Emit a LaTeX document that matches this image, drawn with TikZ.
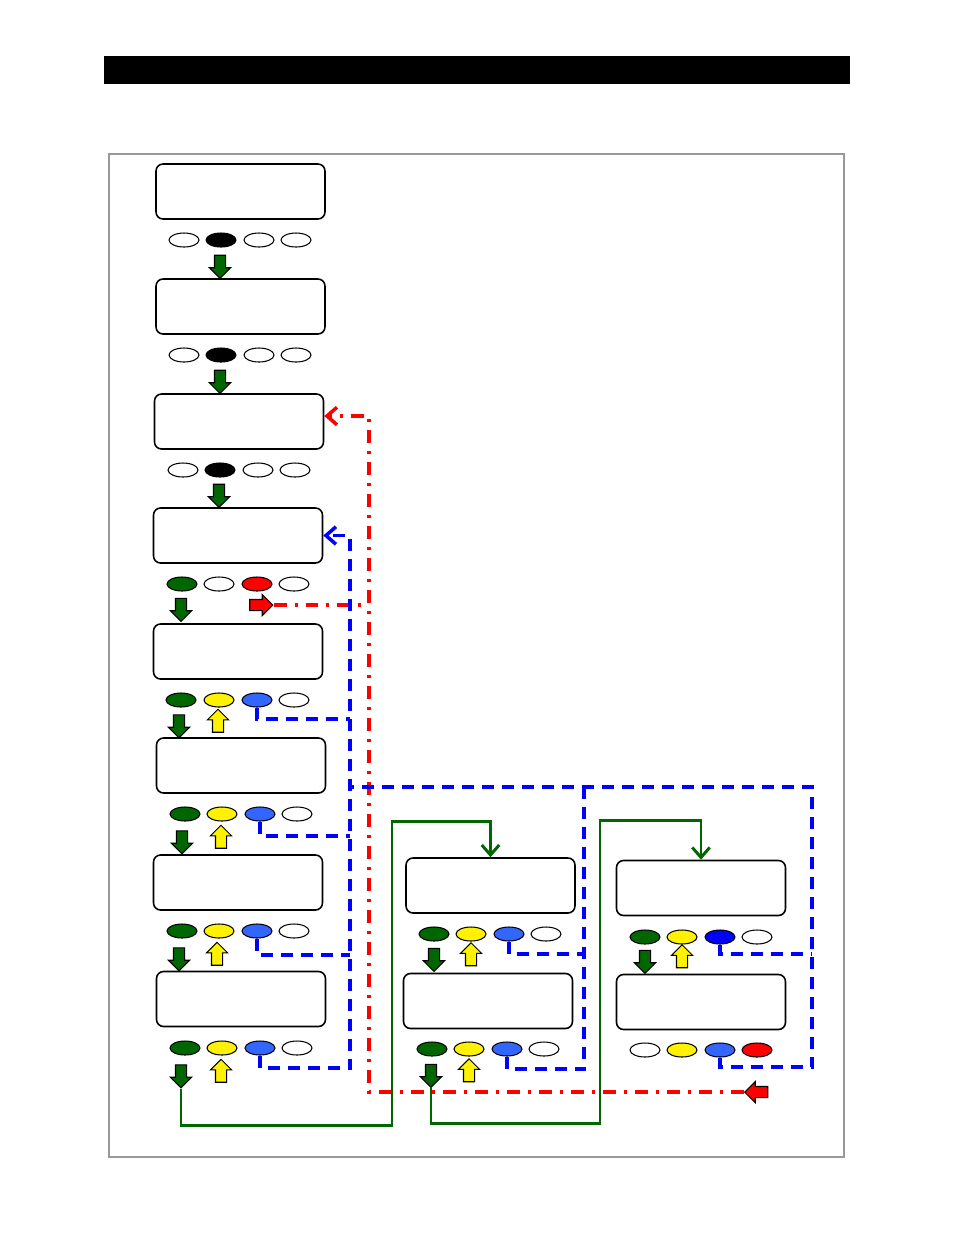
\documentclass[tikz,border=0pt]{standalone}
\usetikzlibrary{arrows.meta,positioning,shapes.geometric,shapes.arrows}

\definecolor{keygreen}{RGB}{0,102,0}
\definecolor{keyblue}{RGB}{51,102,255}
\definecolor{keydeep}{RGB}{0,0,255}

\begin{document}
\begin{tikzpicture}[
  x=0.02cm, y=-0.02cm,
  screen/.style={
    draw=black,
    rounded corners=4pt,
    line width=0.9pt,
    fill=white,
    minimum width=3.38cm,
    minimum height=1.1cm
  },
  key/.style={
    ellipse,
    draw=black,
    line width=0.6pt,
    fill=white,
    inner sep=0pt,
    minimum width=0.6cm,
    minimum height=0.28cm
  },
  blk/.style={
    single arrow,
    draw=black,
    line width=0.6pt,
    inner sep=0.1cm,
    minimum height=0.46cm,
    minimum width=0.4cm,
    single arrow head extend=0.1cm
  },
  pushdown/.style={blk, fill=keygreen, shape border rotate=270},
  pushup/.style={blk, fill=yellow, shape border rotate=90},
  pushright/.style={blk, fill=red, shape border rotate=0},
  pushleft/.style={blk, fill=red, shape border rotate=180},
  bluelink/.style={draw=keydeep, line width=2pt, dash pattern=on 0.24cm off 0.16cm},
  redlink/.style={draw=red, line width=2pt, dash pattern=on 0.26cm off 0.16cm on 0.06cm off 0.16cm},
  greenlink/.style={draw=keygreen, line width=1.7pt},
  tip/.style={-{Straight Barb[length=2mm,width=3.5mm]}}
]
\useasboundingbox (0,0) rectangle (954,1235);

% title bar and page frame
\fill[black] (104,56) rectangle (850,84);
\draw[black!40, line width=0.6pt] (109,154) rectangle (844,1157);

% left column
\node[screen] (menu1) at (240.5,191.5) {};
\node[key] (k1a) at (184,240) {};
\node[key, fill=black] (k1b) at (221,240) {};
\node[key] (k1c) at (259,240) {};
\node[key] (k1d) at (296,240) {};
\node[pushdown] (go1) at (220,264) {};

\node[screen] (menu2) at (240.5,306.5) {};
\node[key] (k2a) at (184,355) {};
\node[key, fill=black] (k2b) at (221,355) {};
\node[key] (k2c) at (259,355) {};
\node[key] (k2d) at (296,355) {};
\node[pushdown] (go2) at (220,379) {};

\node[screen] (menu3) at (239,421.5) {};
\node[key] (k3a) at (183,470) {};
\node[key, fill=black] (k3b) at (220,470) {};
\node[key] (k3c) at (258,470) {};
\node[key] (k3d) at (295,470) {};
\node[pushdown] (go3) at (219,493) {};

\node[screen] (menu4) at (238,535.5) {};
\node[key, fill=keygreen] (k4a) at (182,584) {};
\node[key] (k4b) at (219,584) {};
\node[key, fill=red] (k4c) at (257,584) {};
\node[key] (k4d) at (294,584) {};
\node[pushdown] (go4) at (181,607) {};
\node[pushright] (esc4) at (258.5,605) {};

\node[screen] (menu5) at (238,651.5) {};
\node[key, fill=keygreen] (k5a) at (181,700) {};
\node[key, fill=yellow] (k5b) at (219,700) {};
\node[key, fill=keyblue] (k5c) at (257,700) {};
\node[key] (k5d) at (294,700) {};
\node[pushdown] (go5) at (179,723.5) {};
\node[pushup] (back5) at (218,723.5) {};

\node[screen] (menu6) at (241,765.5) {};
\node[key, fill=keygreen] (k6a) at (185,814) {};
\node[key, fill=yellow] (k6b) at (222,814) {};
\node[key, fill=keyblue] (k6c) at (260,814) {};
\node[key] (k6d) at (297,814) {};
\node[pushdown] (go6) at (182,839.5) {};
\node[pushup] (back6) at (221,839.5) {};

\node[screen] (menu7) at (238,882.5) {};
\node[key, fill=keygreen] (k7a) at (182,931) {};
\node[key, fill=yellow] (k7b) at (219,931) {};
\node[key, fill=keyblue] (k7c) at (257,931) {};
\node[key] (k7d) at (294,931) {};
\node[pushdown] (go7) at (179,956.5) {};
\node[pushup] (back7) at (217,956.5) {};

\node[screen] (menu8) at (241,999) {};
\node[key, fill=keygreen] (k8a) at (185,1048) {};
\node[key, fill=yellow] (k8b) at (222,1048) {};
\node[key, fill=keyblue] (k8c) at (260,1048) {};
\node[key] (k8d) at (297,1048) {};
\node[pushdown] (go8) at (181,1073.5) {};
\node[pushup] (back8) at (221,1073.5) {};

% middle column
\node[screen] (sub1) at (490.5,885.5) {};
\node[key, fill=keygreen] (s1a) at (434,934) {};
\node[key, fill=yellow] (s1b) at (471,934) {};
\node[key, fill=keyblue] (s1c) at (509,934) {};
\node[key] (s1d) at (546,934) {};
\node[pushdown] (sgo1) at (434,957) {};
\node[pushup] (sback1) at (471,957) {};

\node[screen] (sub2) at (488,1001) {};
\node[key, fill=keygreen] (s2a) at (432,1049) {};
\node[key, fill=yellow] (s2b) at (469,1049) {};
\node[key, fill=keyblue] (s2c) at (507,1049) {};
\node[key] (s2d) at (544,1049) {};
\node[pushdown] (sgo2) at (431,1073) {};
\node[pushup] (sback2) at (469,1073) {};

% right column
\node[screen] (set1) at (701,888) {};
\node[key, fill=keygreen] (t1a) at (645,937) {};
\node[key, fill=yellow] (t1b) at (682,937) {};
\node[key, fill=keydeep] (t1c) at (720,937) {};
\node[key] (t1d) at (757,937) {};
\node[pushdown] (tgo1) at (645,959) {};
\node[pushup] (tback1) at (682,959) {};

\node[screen] (set2) at (701,1002) {};
\node[key] (t2a) at (645,1050) {};
\node[key, fill=yellow] (t2b) at (682,1050) {};
\node[key, fill=keyblue] (t2c) at (720,1050) {};
\node[key, fill=red] (t2d) at (757,1050) {};
\node[pushleft] (tesc2) at (759,1092) {};

% corners of the connectors
\coordinate (redtop) at (369,416);
\coordinate (bluebot) at (350,1068);
\coordinate (j5) at (350,719);
\coordinate (j6) at (350,836);
\coordinate (j7) at (350,955);
\coordinate (bluetl) at (350,787);
\coordinate (bluetm) at (584,787);
\coordinate (bluetr) at (812,787);
\coordinate (js1) at (584,954);
\coordinate (js2) at (584,1069);
\coordinate (jt1) at (812,954);
\coordinate (jt2) at (812,1067);
\coordinate (g1) at (392,1125);
\coordinate (g2) at (392,821);
\coordinate (g3) at (600,1123);
\coordinate (g4) at (600,820);

% escape paths
\draw[redlink, tip] (tesc2.tip) -| (redtop) -- (menu3.east |- redtop);
\draw[redlink] (esc4.tip) -- (esc4.tip -| redtop);

% back paths
\draw[bluelink, tip] (k8c.south) |- (bluebot) |- (menu4.east);
\draw[bluelink] (k5c.south) |- (j5);
\draw[bluelink] (k6c.south) |- (j6);
\draw[bluelink] (k7c.south) |- (j7);
\draw[bluelink] (t2c.south) |- (jt2) -- (bluetr) -- (bluetl);
\draw[bluelink] (t1c.south) |- (jt1);
\draw[bluelink] (s2c.south) |- (js2) -- (bluetm);
\draw[bluelink] (s1c.south) |- (js1);

% forward paths
\draw[greenlink, tip] (go8.tip) |- (g1) -- (g2) -| (sub1.north);
\draw[greenlink, tip] (sgo2.tip) |- (g3) -- (g4) -| (set1.north);

\end{tikzpicture}
\end{document}
